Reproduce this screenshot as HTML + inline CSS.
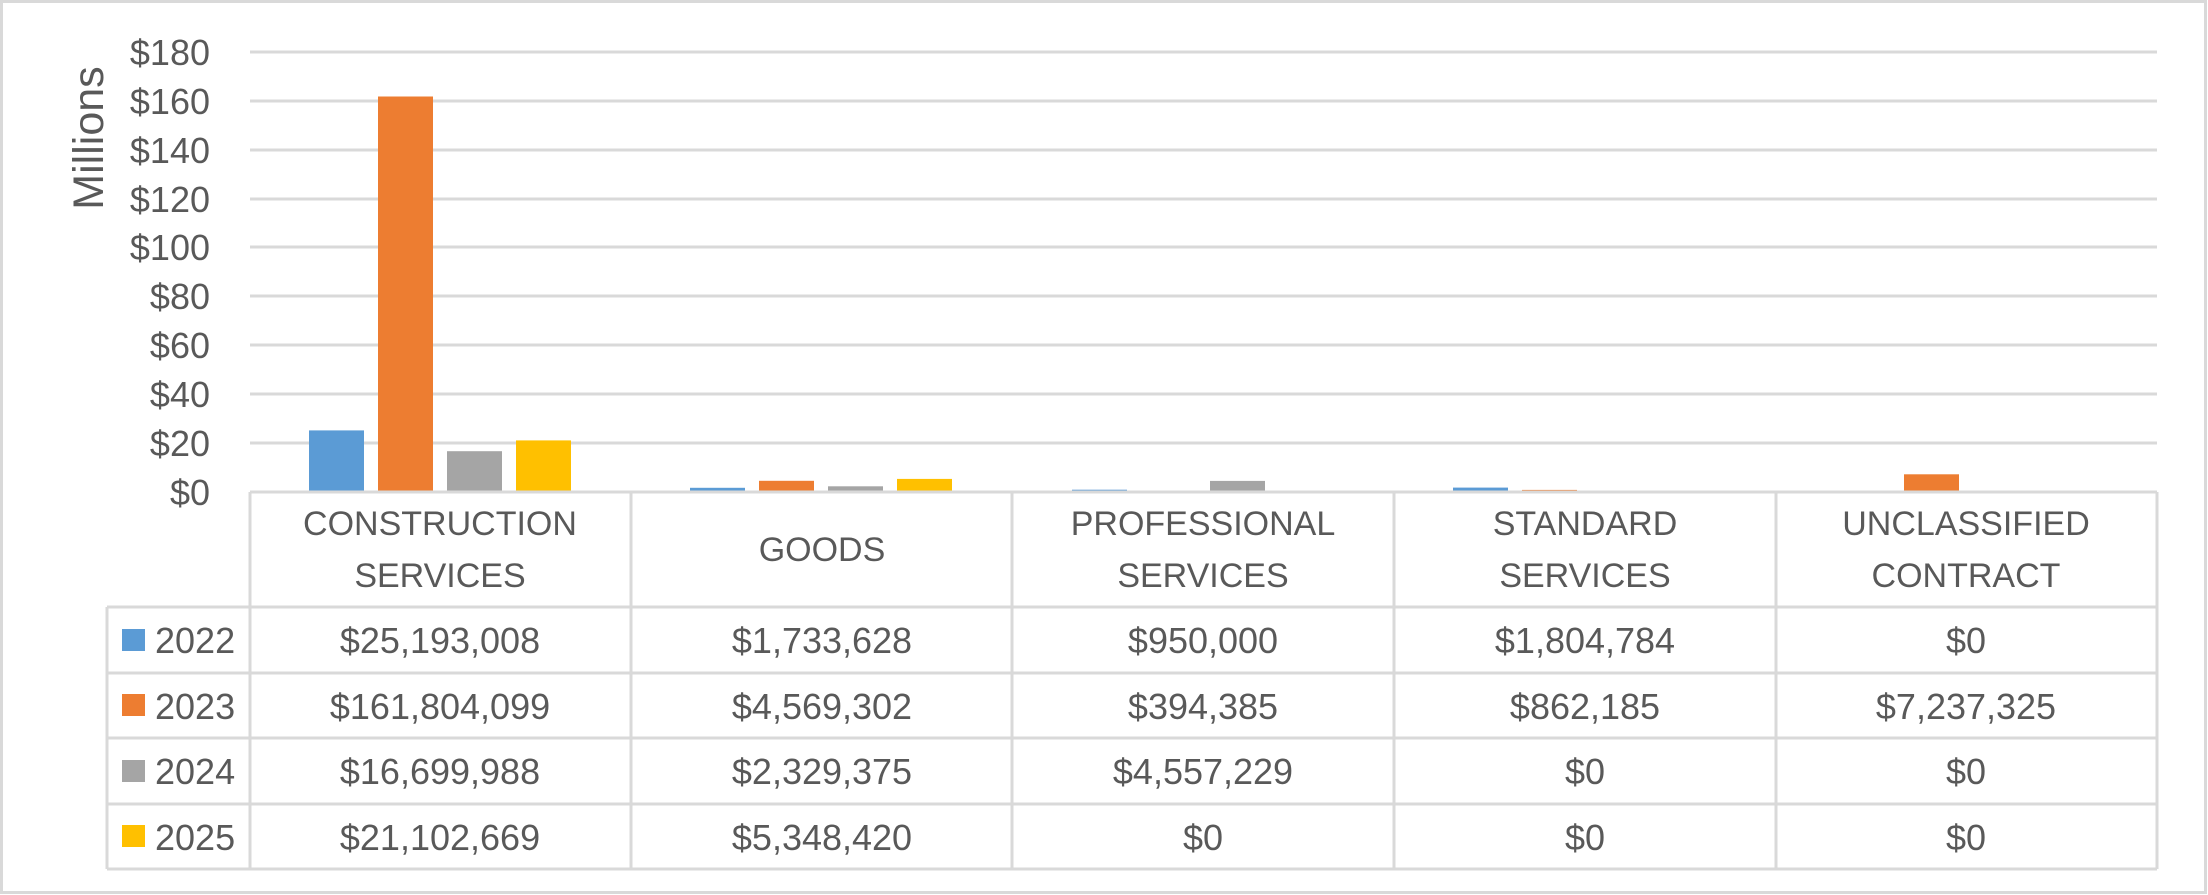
<!DOCTYPE html>
<html><head><meta charset="utf-8"><style>
html,body{margin:0;padding:0;background:#fff;}
svg{display:block;}
text{font-family:"Liberation Sans",sans-serif;fill:#595959;}
</style></head><body>
<svg width="2208" height="895" viewBox="0 0 2208 895" xmlns="http://www.w3.org/2000/svg">
<rect x="1.5" y="1.5" width="2204" height="891" fill="#fff" stroke="#D9D9D9" stroke-width="3"/>
<g stroke="#D9D9D9" stroke-width="3">
<line x1="250" x2="2157" y1="52" y2="52"/>
<line x1="250" x2="2157" y1="101" y2="101"/>
<line x1="250" x2="2157" y1="150" y2="150"/>
<line x1="250" x2="2157" y1="199" y2="199"/>
<line x1="250" x2="2157" y1="247" y2="247"/>
<line x1="250" x2="2157" y1="296" y2="296"/>
<line x1="250" x2="2157" y1="345" y2="345"/>
<line x1="250" x2="2157" y1="394" y2="394"/>
<line x1="250" x2="2157" y1="443" y2="443"/>
</g>
<g font-size="36" text-anchor="end">
<text x="210" y="65">$180</text>
<text x="210" y="114">$160</text>
<text x="210" y="163">$140</text>
<text x="210" y="212">$120</text>
<text x="210" y="260">$100</text>
<text x="210" y="309">$80</text>
<text x="210" y="358">$60</text>
<text x="210" y="407">$40</text>
<text x="210" y="456">$20</text>
<text x="210" y="505">$0</text>
</g>
<text transform="translate(103,138) rotate(-90)" font-size="43" text-anchor="middle">Millions</text>
<g>
<rect x="309" y="430.4" width="55" height="61.6" fill="#5B9BD5"/>
<rect x="378" y="96.5" width="55" height="395.5" fill="#ED7D31"/>
<rect x="447" y="451.2" width="55" height="40.8" fill="#A5A5A5"/>
<rect x="516" y="440.4" width="55" height="51.6" fill="#FFC000"/>

<rect x="690" y="487.8" width="55" height="4.2" fill="#5B9BD5"/>
<rect x="759" y="480.8" width="55" height="11.2" fill="#ED7D31"/>
<rect x="828" y="486.3" width="55" height="5.7" fill="#A5A5A5"/>
<rect x="897" y="478.9" width="55" height="13.1" fill="#FFC000"/>

<rect x="1072" y="489.7" width="55" height="2.3" fill="#5B9BD5"/>
<rect x="1141" y="491" width="55" height="1" fill="#ED7D31"/>
<rect x="1210" y="480.9" width="55" height="11.1" fill="#A5A5A5"/>

<rect x="1453" y="487.6" width="55" height="4.4" fill="#5B9BD5"/>
<rect x="1522" y="489.9" width="55" height="2.1" fill="#ED7D31"/>

<rect x="1904" y="474.3" width="55" height="17.7" fill="#ED7D31"/>
</g>
<g stroke="#D9D9D9" stroke-width="3" fill="none">
<line x1="250" x2="2157" y1="492" y2="492"/>
<line x1="107" x2="2157" y1="607" y2="607"/>
<line x1="107" x2="2157" y1="673" y2="673"/>
<line x1="107" x2="2157" y1="738" y2="738"/>
<line x1="107" x2="2157" y1="804" y2="804"/>
<line x1="107" x2="2157" y1="869" y2="869"/>
<line x1="107" x2="107" y1="607" y2="869"/>
<line x1="250" x2="250" y1="492" y2="869"/>
<line x1="631" x2="631" y1="492" y2="869"/>
<line x1="1012" x2="1012" y1="492" y2="869"/>
<line x1="1394" x2="1394" y1="492" y2="869"/>
<line x1="1776" x2="1776" y1="492" y2="869"/>
<line x1="2157" x2="2157" y1="492" y2="869"/>
</g>
<g font-size="34" text-anchor="middle">
<text x="440" y="535">CONSTRUCTION</text><text x="440" y="587">SERVICES</text>
<text x="822" y="561">GOODS</text>
<text x="1203" y="535">PROFESSIONAL</text><text x="1203" y="587">SERVICES</text>
<text x="1585" y="535">STANDARD</text><text x="1585" y="587">SERVICES</text>
<text x="1966" y="535">UNCLASSIFIED</text><text x="1966" y="587">CONTRACT</text>
</g>
<rect x="122" y="629" width="23" height="22" fill="#5B9BD5"/>
<rect x="122" y="694" width="23" height="22" fill="#ED7D31"/>
<rect x="122" y="760" width="23" height="22" fill="#A5A5A5"/>
<rect x="122" y="825" width="23" height="22" fill="#FFC000"/>
<g font-size="36">
<text x="155" y="653">2022</text>
<text x="155" y="719">2023</text>
<text x="155" y="784">2024</text>
<text x="155" y="850">2025</text>
</g>
<g font-size="36" text-anchor="middle">
<text x="440" y="653">$25,193,008</text><text x="822" y="653">$1,733,628</text><text x="1203" y="653">$950,000</text><text x="1585" y="653">$1,804,784</text><text x="1966" y="653">$0</text>
<text x="440" y="719">$161,804,099</text><text x="822" y="719">$4,569,302</text><text x="1203" y="719">$394,385</text><text x="1585" y="719">$862,185</text><text x="1966" y="719">$7,237,325</text>
<text x="440" y="784">$16,699,988</text><text x="822" y="784">$2,329,375</text><text x="1203" y="784">$4,557,229</text><text x="1585" y="784">$0</text><text x="1966" y="784">$0</text>
<text x="440" y="850">$21,102,669</text><text x="822" y="850">$5,348,420</text><text x="1203" y="850">$0</text><text x="1585" y="850">$0</text><text x="1966" y="850">$0</text>
</g>
</svg>
</body></html>
